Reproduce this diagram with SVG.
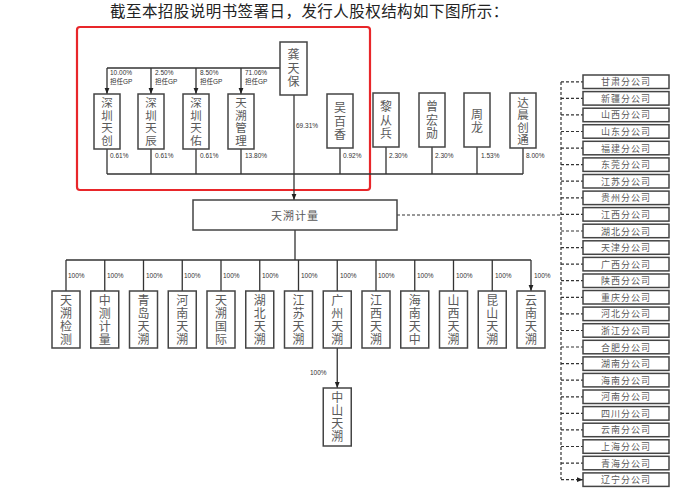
<svg xmlns="http://www.w3.org/2000/svg" width="692" height="497" viewBox="0 0 692 497">
<defs>
<marker id="ah" viewBox="0 0 10 10" refX="10" refY="5" markerWidth="6" markerHeight="6" orient="auto" markerUnits="userSpaceOnUse"><path d="M0,1 L10,5 L0,9 z" fill="#222"/></marker>
<style>
.bx{fill:#fff;stroke:#444;stroke-width:1.5}
.ln{fill:none;stroke:#333;stroke-width:1.3}
.ar{fill:none;stroke:#333;stroke-width:1.3;marker-end:url(#ah)}
.da{fill:none;stroke:#333;stroke-width:1.2;stroke-dasharray:3,2}
.dar{fill:none;stroke:#333;stroke-width:1.2;stroke-dasharray:3,2;marker-end:url(#ah)}
.t{font-family:"Noto Sans CJK SC",sans-serif;fill:#5a5a5a;text-anchor:middle}
.tb{font-size:9px;letter-spacing:1px;dominant-baseline:central}
.v{writing-mode:vertical-rl;font-size:11.5px;letter-spacing:1px}
.v3{writing-mode:vertical-rl;font-size:12px;letter-spacing:1.5px}
.v4{writing-mode:vertical-rl;font-size:12px;letter-spacing:1px}
.p{font-family:"Liberation Sans","Noto Sans CJK SC",sans-serif;font-size:6.5px;fill:#333}
.title{font-family:"Noto Sans CJK SC",sans-serif;font-size:15.5px;letter-spacing:0.45px;fill:#222}
</style>
</defs>
<rect width="692" height="497" fill="#fff"/>
<text class="title" x="110" y="17">截至本招股说明书签署日，发行人股权结构如下图所示：</text>
<rect x="77" y="27" width="293" height="163" rx="3" fill="none" stroke="#e8262a" stroke-width="2.2"/>

<g id="connectors">
<path class="ln" d="M280,68 H107"/>
<path class="ar" d="M107,68 V94"/>
<path class="ar" d="M151,68 V94"/>
<path class="ar" d="M196,68 V94"/>
<path class="ar" d="M241,68 V94"/>
<path class="ln" d="M107,149 V174 M151,149 V174 M196,149 V174 M241,149 V174 M340,148 V174 M386,147 V174 M432,147 V174 M477,147 V174 M523,148 V174 M107,174 H523"/>
<path class="ar" d="M294,95 V200"/>
<path class="ln" d="M295,230 V260 M66,260 H531"/>
<path class="ar" d="M66,260 V291 M104.75,260 V291 M143.5,260 V291 M182.25,260 V291 M221,260 V291 M259.75,260 V291 M298.5,260 V291 M337.25,260 V291 M376,260 V291 M414.75,260 V291 M453.5,260 V291 M492.25,260 V291 M531,260 V291"/>
<path class="ar" d="M337.25,348 V388"/>
<path class="da" d="M397,215 H561 M561,82 V479"/>
<path class="dar" d="M561,81.8 H583 M561,98.3 H583 M561,114.9 H583 M561,131.5 H583 M561,148.1 H583 M561,164.7 H583 M561,181.2 H583 M561,197.8 H583 M561,214.4 H583 M561,231 H583 M561,247.6 H583 M561,264.1 H583 M561,280.7 H583 M561,297.3 H583 M561,313.9 H583 M561,330.5 H583 M561,347 H583 M561,363.6 H583 M561,380.2 H583 M561,396.8 H583 M561,413.4 H583 M561,429.9 H583 M561,446.5 H583 M561,463.1 H583 M561,479.7 H583"/>
</g>

<g id="labels">
<text class="p" x="110" y="75">10.00%</text><text class="p" x="110" y="84">担任GP</text>
<text class="p" x="155" y="75">2.50%</text><text class="p" x="155" y="84">担任GP</text>
<text class="p" x="200" y="75">8.50%</text><text class="p" x="200" y="84">担任GP</text>
<text class="p" x="245" y="75">71.06%</text><text class="p" x="245" y="84">担任GP</text>
<text class="p" x="110" y="158">0.61%</text>
<text class="p" x="155" y="158">0.61%</text>
<text class="p" x="200" y="158">0.61%</text>
<text class="p" x="245" y="158">13.80%</text>
<text class="p" x="296" y="128">69.31%</text>
<text class="p" x="343" y="158">0.92%</text>
<text class="p" x="389" y="158">2.30%</text>
<text class="p" x="435" y="158">2.30%</text>
<text class="p" x="481" y="158">1.53%</text>
<text class="p" x="526" y="158">8.00%</text>
<text class="p" x="68" y="278">100%</text>
<text class="p" x="107" y="278">100%</text>
<text class="p" x="146" y="278">100%</text>
<text class="p" x="184" y="278">100%</text>
<text class="p" x="223" y="278">100%</text>
<text class="p" x="262" y="278">100%</text>
<text class="p" x="301" y="278">100%</text>
<text class="p" x="340" y="278">100%</text>
<text class="p" x="378" y="278">100%</text>
<text class="p" x="417" y="278">100%</text>
<text class="p" x="456" y="278">100%</text>
<text class="p" x="495" y="278">100%</text>
<text class="p" x="534" y="278">100%</text>
<text class="p" x="310" y="375">100%</text>
</g>

<g id="n-gongtianbao"><rect class="bx" x="280" y="42" width="27" height="53"/><text class="t v3" x="293.5" y="69">龚天保</text></g>
<g id="n-sztc"><rect class="bx" x="94" y="94" width="26" height="55"/><text class="t v" x="107" y="122">深圳天创</text></g>
<g id="n-sztchen"><rect class="bx" x="138" y="94" width="26" height="55"/><text class="t v" x="151" y="122">深圳天辰</text></g>
<g id="n-sztyou"><rect class="bx" x="183" y="94" width="26" height="55"/><text class="t v" x="196" y="122">深圳天佑</text></g>
<g id="n-tsgl"><rect class="bx" x="228" y="94" width="26" height="55"/><text class="t v" x="241" y="122">天溯管理</text></g>
<g id="n-wbx"><rect class="bx" x="327" y="94" width="26" height="54"/><text class="t v3" x="340" y="122">吴百香</text></g>
<g id="n-lcb"><rect class="bx" x="373" y="93" width="26" height="54"/><text class="t v3" x="386" y="121">黎从兵</text></g>
<g id="n-zhx"><rect class="bx" x="419" y="93" width="26" height="54"/><text class="t v3" x="432" y="121">曾宏勋</text></g>
<g id="n-zl"><rect class="bx" x="464" y="93" width="26" height="54"/><text class="t v4" x="477" y="121">周龙</text></g>
<g id="n-dcct"><rect class="bx" x="510" y="93" width="26" height="55"/><text class="t v" x="523" y="121.5">达晨创通</text></g>

<g id="n-tsjl"><rect class="bx" x="193" y="200" width="204" height="30"/><text class="t" x="295" y="215" style="font-size:11px;letter-spacing:1px;dominant-baseline:central">天溯计量</text></g>

<g id="n-b0"><rect class="bx" x="52" y="291" width="28" height="57"/><text class="t v4" x="66" y="320">天溯检测</text></g>
<g id="n-b1"><rect class="bx" x="90.75" y="291" width="28" height="57"/><text class="t v4" x="104.75" y="320">中测计量</text></g>
<g id="n-b2"><rect class="bx" x="129.5" y="291" width="28" height="57"/><text class="t v4" x="143.5" y="320">青岛天溯</text></g>
<g id="n-b3"><rect class="bx" x="168.25" y="291" width="28" height="57"/><text class="t v4" x="182.25" y="320">河南天溯</text></g>
<g id="n-b4"><rect class="bx" x="207" y="291" width="28" height="57"/><text class="t v4" x="221" y="320">天溯国际</text></g>
<g id="n-b5"><rect class="bx" x="245.75" y="291" width="28" height="57"/><text class="t v4" x="259.75" y="320">湖北天溯</text></g>
<g id="n-b6"><rect class="bx" x="284.5" y="291" width="28" height="57"/><text class="t v4" x="298.5" y="320">江苏天溯</text></g>
<g id="n-b7"><rect class="bx" x="323.25" y="291" width="28" height="57"/><text class="t v4" x="337.25" y="320">广州天溯</text></g>
<g id="n-b8"><rect class="bx" x="362" y="291" width="28" height="57"/><text class="t v4" x="376" y="320">江西天溯</text></g>
<g id="n-b9"><rect class="bx" x="400.75" y="291" width="28" height="57"/><text class="t v4" x="414.75" y="320">海南天中</text></g>
<g id="n-b10"><rect class="bx" x="439.5" y="291" width="28" height="57"/><text class="t v4" x="453.5" y="320">山西天溯</text></g>
<g id="n-b11"><rect class="bx" x="478.25" y="291" width="28" height="57"/><text class="t v4" x="492.25" y="320">昆山天溯</text></g>
<g id="n-b12"><rect class="bx" x="517" y="291" width="28" height="57"/><text class="t v4" x="531" y="320">云南天溯</text></g>
<g id="n-zsts"><rect class="bx" x="323.25" y="388" width="28" height="58"/><text class="t v4" x="337.25" y="417.5">中山天溯</text></g>

<g id="n-br0"><rect class="bx" x="583" y="75" width="86" height="13.5"/><text class="t tb" x="626" y="81.8">甘肃分公司</text></g>
<g id="n-br1"><rect class="bx" x="583" y="91.6" width="86" height="13.5"/><text class="t tb" x="626" y="98.3">新疆分公司</text></g>
<g id="n-br2"><rect class="bx" x="583" y="108.2" width="86" height="13.5"/><text class="t tb" x="626" y="114.9">山西分公司</text></g>
<g id="n-br3"><rect class="bx" x="583" y="124.7" width="86" height="13.5"/><text class="t tb" x="626" y="131.5">山东分公司</text></g>
<g id="n-br4"><rect class="bx" x="583" y="141.3" width="86" height="13.5"/><text class="t tb" x="626" y="148.1">福建分公司</text></g>
<g id="n-br5"><rect class="bx" x="583" y="157.9" width="86" height="13.5"/><text class="t tb" x="626" y="164.7">东莞分公司</text></g>
<g id="n-br6"><rect class="bx" x="583" y="174.5" width="86" height="13.5"/><text class="t tb" x="626" y="181.2">江苏分公司</text></g>
<g id="n-br7"><rect class="bx" x="583" y="191.1" width="86" height="13.5"/><text class="t tb" x="626" y="197.8">贵州分公司</text></g>
<g id="n-br8"><rect class="bx" x="583" y="207.6" width="86" height="13.5"/><text class="t tb" x="626" y="214.4">江西分公司</text></g>
<g id="n-br9"><rect class="bx" x="583" y="224.2" width="86" height="13.5"/><text class="t tb" x="626" y="231">湖北分公司</text></g>
<g id="n-br10"><rect class="bx" x="583" y="240.8" width="86" height="13.5"/><text class="t tb" x="626" y="247.6">天津分公司</text></g>
<g id="n-br11"><rect class="bx" x="583" y="257.4" width="86" height="13.5"/><text class="t tb" x="626" y="264.1">广西分公司</text></g>
<g id="n-br12"><rect class="bx" x="583" y="274" width="86" height="13.5"/><text class="t tb" x="626" y="280.7">陕西分公司</text></g>
<g id="n-br13"><rect class="bx" x="583" y="290.5" width="86" height="13.5"/><text class="t tb" x="626" y="297.3">重庆分公司</text></g>
<g id="n-br14"><rect class="bx" x="583" y="307.1" width="86" height="13.5"/><text class="t tb" x="626" y="313.9">河北分公司</text></g>
<g id="n-br15"><rect class="bx" x="583" y="323.7" width="86" height="13.5"/><text class="t tb" x="626" y="330.5">浙江分公司</text></g>
<g id="n-br16"><rect class="bx" x="583" y="340.3" width="86" height="13.5"/><text class="t tb" x="626" y="347">合肥分公司</text></g>
<g id="n-br17"><rect class="bx" x="583" y="356.9" width="86" height="13.5"/><text class="t tb" x="626" y="363.6">湖南分公司</text></g>
<g id="n-br18"><rect class="bx" x="583" y="373.4" width="86" height="13.5"/><text class="t tb" x="626" y="380.2">海南分公司</text></g>
<g id="n-br19"><rect class="bx" x="583" y="390" width="86" height="13.5"/><text class="t tb" x="626" y="396.8">河南分公司</text></g>
<g id="n-br20"><rect class="bx" x="583" y="406.6" width="86" height="13.5"/><text class="t tb" x="626" y="413.4">四川分公司</text></g>
<g id="n-br21"><rect class="bx" x="583" y="423.2" width="86" height="13.5"/><text class="t tb" x="626" y="429.9">云南分公司</text></g>
<g id="n-br22"><rect class="bx" x="583" y="439.8" width="86" height="13.5"/><text class="t tb" x="626" y="446.5">上海分公司</text></g>
<g id="n-br23"><rect class="bx" x="583" y="456.3" width="86" height="13.5"/><text class="t tb" x="626" y="463.1">青海分公司</text></g>
<g id="n-br24"><rect class="bx" x="583" y="472.9" width="86" height="13.5"/><text class="t tb" x="626" y="479.7">辽宁分公司</text></g>
</svg>
